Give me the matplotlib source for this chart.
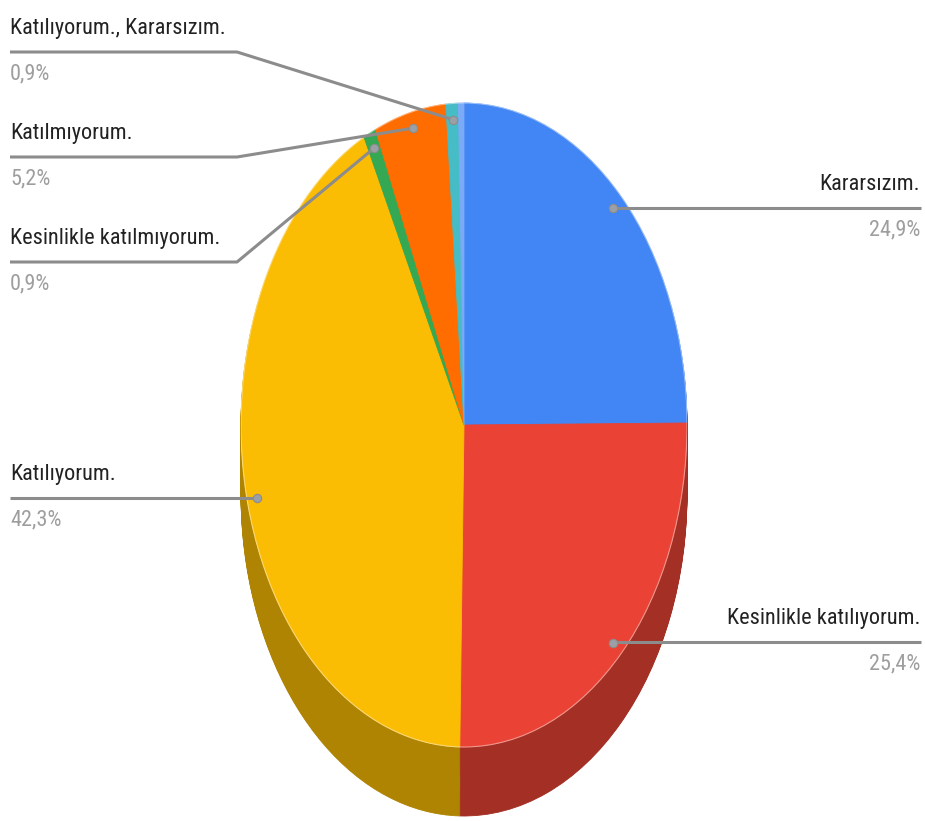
import matplotlib
matplotlib.use("Agg")
import matplotlib.pyplot as plt
import matplotlib.colors as mcolors
from matplotlib import font_manager
from matplotlib.patches import Ellipse
import numpy as np

# ---------------- data ----------------
labels = ["Kararsızım.", "Kesinlikle katılıyorum.", "Katılıyorum.",
          "Kesinlikle katılmıyorum.", "Katılmıyorum.", "Katılıyorum., Kararsızım.", ""]
values = [24.9, 25.4, 42.3, 0.9, 5.2, 0.9, 0.4]
pct_labels = ["24,9%", "25,4%", "42,3%", "0,9%", "5,2%", "0,9%", ""]
colors = ["#4285F4", "#EA4335", "#FBBC04", "#34A853", "#FF6D01", "#46BDC6", "#7BAAF7"]

# ---------------- layout ----------------
W, H = 925, 821
cx, cy, rx, ry, depth = 464, 425, 223, 322, 69
label_layout = {
    0: ("right", 208),
    1: ("right", 642),
    2: ("left", 498),
    3: ("left", 262),
    4: ("left", 157),
    5: ("left", 52),
}
elbow_x = 237

# font: prefer a condensed face if one is installed
names = {f.name for f in font_manager.fontManager.ttflist}
fam = "Liberation Sans"
for cand in ["Roboto Condensed", "Liberation Sans Narrow", "Open Sans Condensed",
             "DejaVu Sans Condensed"]:
    if cand in names:
        fam = cand
        break
plt.rcParams["font.family"] = [fam, "DejaVu Sans"]

fig = plt.figure(figsize=(W / 100, H / 100), dpi=100)
fig.patch.set_facecolor("white")

# fit font size so the long label has the reference width (~192 px)
probe = fig.text(0, 0, "Kesinlikle katılıyorum.", fontsize=20)
fig.canvas.draw()
wpx = probe.get_window_extent().width
probe.remove()
fs = 20 * 193 / wpx

dd = depth / ry
pie_ax = fig.add_axes([(cx - rx) / W, (H - (cy + ry + depth)) / H,
                       2 * rx / W, (2 * ry + depth) / H])

def darker(c, f=0.7):
    r, g, b = mcolors.to_rgb(c)
    return (r * f, g * f, b * f)

dark = [darker(c) for c in colors]

# side wall: stacked darker pies
for k in np.linspace(dd, 0.004, 70):
    wedges, _ = pie_ax.pie(values, colors=dark, startangle=90, counterclock=False,
                           center=(0, -k), radius=1.0,
                           wedgeprops=dict(linewidth=0.6))
    for w in wedges:
        w.set_edgecolor(w.get_facecolor())

# top face
wedges, _ = pie_ax.pie(values, colors=colors, startangle=90, counterclock=False,
                       center=(0, 0), radius=1.0, wedgeprops=dict(linewidth=0.6))
for w in wedges:
    w.set_edgecolor(w.get_facecolor())
pie_ax.add_patch(Ellipse((0, 0), 2, 2, fill=False, ec=(1, 1, 1, 0.45), lw=0.8))

pie_ax.set_aspect("auto")
pie_ax.set_xlim(-1, 1)
pie_ax.set_ylim(-1 - dd, 1)
pie_ax.axis("off")

# overlay axes in pixel units
lab = fig.add_axes([0, 0, 1, 1], zorder=5)
lab.set_xlim(0, W)
lab.set_ylim(H, 0)
lab.axis("off")
lab.patch.set_alpha(0)

total = sum(values)
cum = 0.0
line_col = "#8c8c8c"
to_pix = pie_ax.transData
inv = lab.transData.inverted()
for i, v in enumerate(values):
    theta = 2 * np.pi * (cum + v / 2) / total
    cum += v
    if i not in label_layout:
        continue
    ax_pt = (0.95 * np.sin(theta), 0.95 * np.cos(theta))
    axp, ayp = inv.transform(to_pix.transform(ax_pt))
    side, ly = label_layout[i]
    if side == "right":
        lab.plot([axp, 921], [ly, ly], color=line_col, lw=2.2, solid_capstyle="butt")
        lab.text(920, ly - 13, labels[i], ha="right", va="bottom", fontsize=fs, color="#222222")
        lab.text(920, ly + 11, pct_labels[i], ha="right", va="top", fontsize=fs, color="#9e9e9e")
    else:
        if i == 2:
            lab.plot([10, axp], [ly, ly], color=line_col, lw=2.2, solid_capstyle="butt")
            ayp = ly
        else:
            lab.plot([10, elbow_x, axp], [ly, ly, ayp], color=line_col, lw=2.2,
                     solid_capstyle="butt")
        lab.text(10, ly - 13, labels[i], ha="left", va="bottom", fontsize=fs, color="#222222")
        lab.text(10, ly + 11, pct_labels[i], ha="left", va="top", fontsize=fs, color="#9e9e9e")
    lab.plot([axp], [ayp], marker="o", ms=6, color="#9aa0a6", mec="#8c8c8c", mew=0.8)

fig.savefig("out.png", dpi=100, facecolor="white")
